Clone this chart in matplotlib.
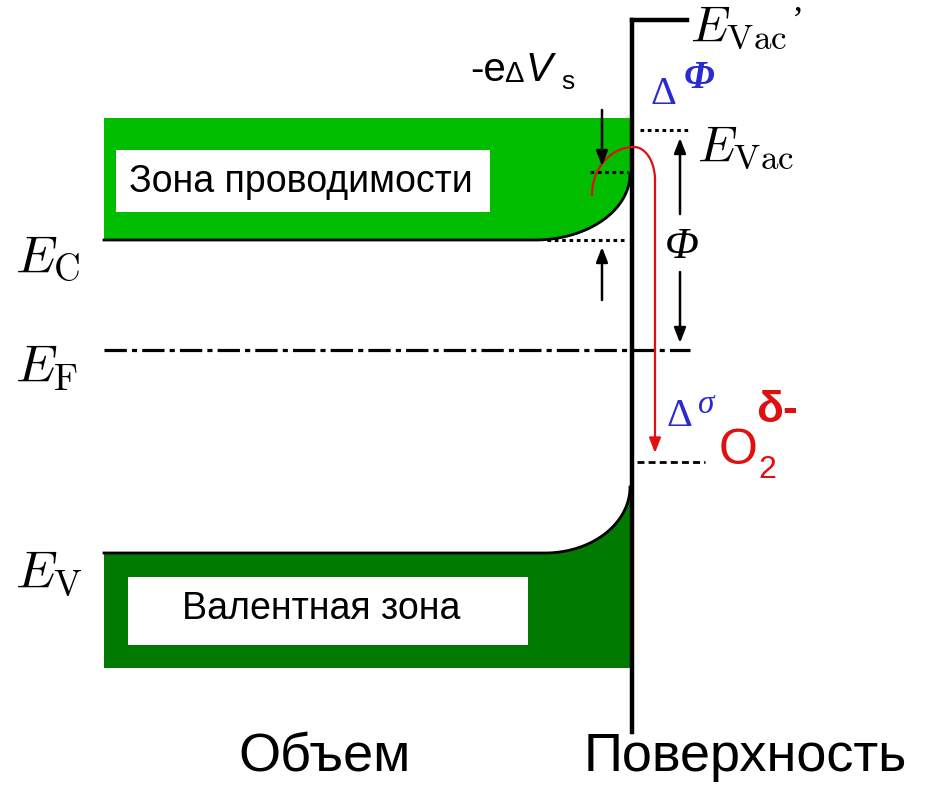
import numpy as np
import matplotlib.pyplot as plt
from matplotlib.patches import Polygon, Rectangle

plt.rcParams['font.family'] = ['Liberation Sans', 'DejaVu Sans']

# уровни энергии (в координатах рисунка, y вниз)
level_names = ['E_C', 'E_F', 'E_V']
level_y = [240, 350, 553]
band_labels = ['Зона проводимости', 'Валентная зона']
band_top = [118, 553]
band_bottom = [240, 668]
band_colors = ['#00bd00', '#007a00']
bend_start_x = [535, 545]     # где начинается изгиб зон
bend_surface_y = [174, 487]   # уровень зон на поверхности
E_vac = 130
E_vac_prime = 20
O2_level = 462
bulk_x = 104
surface_x = 632

fig = plt.figure(figsize=(9.3, 7.85), dpi=100)
ax = fig.add_axes([0, 0, 1, 1])
ax.set_xlim(0, 930)
ax.set_ylim(785, 0)
ax.axis('off')

t = np.linspace(0, np.pi / 2, 60)

# зона проводимости (изгиб вверх у поверхности)
x0, ys = bend_start_x[0], bend_surface_y[0]
cx = x0 + (surface_x - 2 - x0) * np.sin(t)
cy = ys + (band_bottom[0] - ys) * np.cos(t)
poly = [(bulk_x, band_top[0]), (surface_x - 2, band_top[0])]
poly += list(zip(cx[::-1], cy[::-1]))
poly += [(bulk_x, band_bottom[0])]
ax.add_patch(Polygon(poly, closed=True, fc=band_colors[0], ec='none'))
ax.plot(np.r_[bulk_x, cx], np.r_[band_bottom[0], cy], color='black', lw=2)

# валентная зона
x0, ys = bend_start_x[1], bend_surface_y[1]
vx = x0 + (surface_x - 2 - x0) * np.sin(t)
vy = ys + (band_top[1] - ys) * np.cos(t)
poly = [(bulk_x, band_top[1])] + list(zip(vx, vy))
poly += [(surface_x - 2, band_bottom[1]), (bulk_x, band_bottom[1])]
ax.add_patch(Polygon(poly, closed=True, fc=band_colors[1], ec='none'))
ax.plot(np.r_[bulk_x, vx], np.r_[band_top[1], vy], color='black', lw=2)

# подписи зон в белых рамках
ax.add_patch(Rectangle((116, 150), 374, 62, fc='white', ec='none'))
ax.text(301, 182, band_labels[0], fontsize=27, ha='center', va='center')
ax.add_patch(Rectangle((128, 577), 400, 68, fc='white', ec='none'))
ax.text(321, 609, band_labels[1], fontsize=27, ha='center', va='center')

# поверхность
ax.plot([surface_x, surface_x], [E_vac_prime, 732], color='black', lw=3.2)
ax.plot([surface_x, 687], [E_vac_prime, E_vac_prime], color='black', lw=3.2)

# уровень Ферми
ax.plot([bulk_x, 690], [level_y[1], level_y[1]], color='black', lw=2.3,
        linestyle=(0, (7, 1.6, 1.6, 1.6)))

# пунктирные уровни
dot = (0, (1.2, 1.2))
ax.plot([640, 690], [E_vac, E_vac], color='black', lw=2.2, linestyle=dot)
ax.plot([590, 628], [bend_surface_y[0] - 2, bend_surface_y[0] - 2], color='black',
        lw=2.2, linestyle=dot)
ax.plot([547, 625], [level_y[0], level_y[0]], color='black', lw=2.2, linestyle=dot)
ax.plot([637, 705], [O2_level, O2_level], color='black', lw=2, linestyle=(0, (2.5, 1.5)))

# стрелки
akw = dict(arrowstyle='-|>,head_length=0.9,head_width=0.35', color='black', lw=1.8,
           shrinkA=0, shrinkB=0)
ax.annotate('', xy=(602, 166), xytext=(602, 110), arrowprops=akw)
ax.annotate('', xy=(602, 247), xytext=(602, 300), arrowprops=akw)
ax.annotate('', xy=(680, 138), xytext=(680, 214), arrowprops=akw)
ax.annotate('', xy=(680, 343), xytext=(680, 272), arrowprops=akw)

# красная траектория электрона
red = '#e01010'
t1 = np.linspace(0, np.pi / 2, 40)
r1x = 634 - 42 * np.cos(t1)
r1y = 195 - 48 * np.sin(t1)
r2x = 634 + 21 * np.sin(t1)
r2y = 180 - 33 * np.cos(t1)
ax.plot(np.r_[r1x, r2x], np.r_[r1y, r2y], color=red, lw=1.6)
ax.annotate('', xy=(655, 453), xytext=(655, 179),
            arrowprops=dict(arrowstyle='-|>,head_length=0.9,head_width=0.35',
                            color=red, lw=1.6, shrinkA=0, shrinkB=0))

# подписи уровней
for name, y in zip(level_names, [level_y[0] + 18, level_y[1] + 18, level_y[2] + 20]):
    ax.text(15, y, '$' + name.replace('_', r'_\mathrm{') + '}$', fontsize=38,
            math_fontfamily='cm', ha='left', va='center')
ax.text(690, 28, r"$E_\mathrm{Vac}$", fontsize=36, math_fontfamily='cm', va='center')
ax.text(792, 22, "\u2019", fontsize=26, family='Liberation Serif', va='center')
ax.text(697, 148, r"$E_\mathrm{Vac}$", fontsize=36, math_fontfamily='cm', va='center')

serif = 'Liberation Serif'
blue = '#2a2ad0'
ax.text(682, 247, 'Φ', fontsize=32, family=serif, style='italic', ha='center',
        va='center')
ax.text(650, 95, 'Δ', fontsize=29, family=serif, color=blue, va='center')
ax.text(684, 78, 'Φ', fontsize=28, family=serif, style='italic', weight='bold',
        color=blue, va='center')
ax.text(666, 417, 'Δ', fontsize=29, family=serif, color=blue, va='center')
ax.text(698, 405, 'σ', fontsize=24, family=serif, style='italic', color=blue,
        va='center')

# -eΔVs
ax.text(470, 70, '-e', fontsize=29, va='center')
ax.text(504, 74, 'Δ', fontsize=21, va='center')
ax.text(526, 70, 'V', fontsize=29, style='italic', va='center')
ax.text(561, 82, 's', fontsize=19, va='center')

# O2 δ-
ax.text(738, 451, 'O', fontsize=36, color=red, ha='center', va='center')
ax.text(756, 410, 'δ-', fontsize=32, color=red, va='center', weight='bold')
ax.text(758, 470, '2', fontsize=23, color=red, va='center')

# нижние подписи
ax.text(325, 757, 'Объем', fontsize=39, ha='center', va='center')
ax.text(745, 757, 'Поверхность', fontsize=39, ha='center', va='center')

fig.savefig('out.png', dpi=100)
